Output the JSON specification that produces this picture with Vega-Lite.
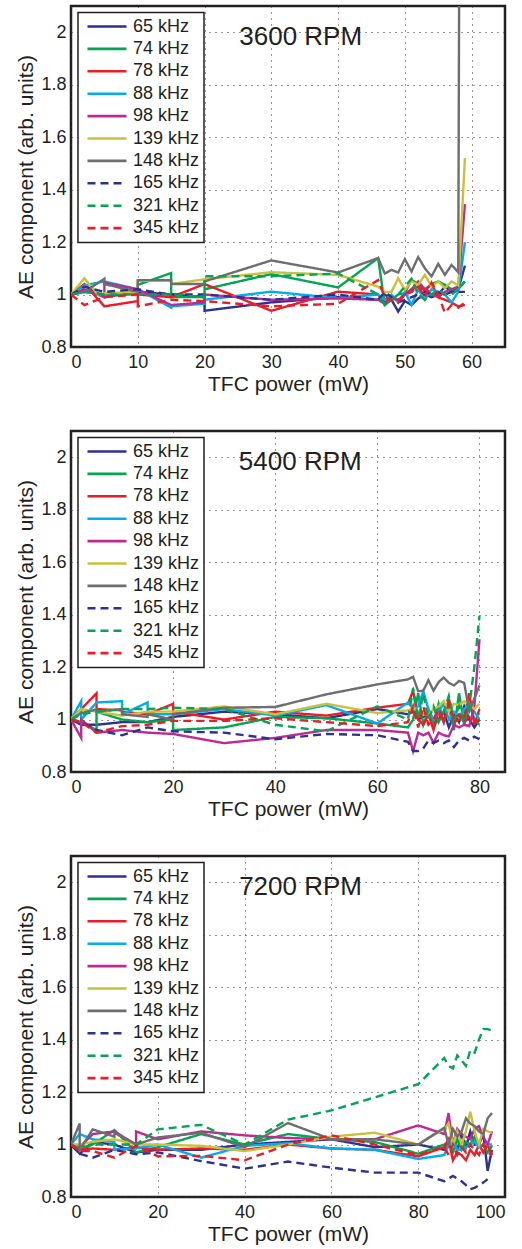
{
"$schema": "https://vega.github.io/schema/vega-lite/v6.json",
"background": "white",
"padding": {"left": 14, "top": 4, "right": 5, "bottom": 0},
"spacing": 33,
"config": {
  "font": "Liberation Sans",
  "view": {"stroke": "#231f20", "strokeWidth": 2.5},
  "axis": {"domain": false, "ticks": false, "grid": true, "gridDash": [1, 5], "gridColor": "#333333", "gridOpacity": 1, "gridWidth": 1,
    "labelFont": "Liberation Sans", "labelFontSize": 18, "labelColor": "#231f20", "labelPadding": 5,
    "titleFont": "Liberation Sans", "titleFontSize": 21, "titleFontWeight": "normal", "titleColor": "#231f20"},
  "axisX": {"labelPadding": 6, "titlePadding": 2},
  "axisY": {"titlePadding": 4},
  "legend": {"strokeColor": "#231f20", "strokeWidth": 1.5, "fillColor": "white", "padding": 4, "symbolOffset": 4,
    "symbolType": "stroke", "symbolSize": 1521, "symbolStrokeWidth": 2.6, "clipHeight": 20, "rowPadding": 2.4,
    "labelFont": "Liberation Sans", "labelFontSize": 18, "labelColor": "#231f20", "labelOffset": 5}
},
"datasets": {
"p1": [
 {"i":1,"x":0,"65 kHz":1,"74 kHz":1,"78 kHz":1,"88 kHz":1,"98 kHz":1,"139 kHz":1,"148 kHz":1,"165 kHz":1,"321 kHz":1,"345 kHz":1},
 {"i":2,"x":2,"65 kHz":1.035,"74 kHz":1.01,"78 kHz":1.04,"88 kHz":1.035,"98 kHz":1.02,"139 kHz":1.062,"148 kHz":1.01,"165 kHz":1.03,"321 kHz":1.01,"345 kHz":0.96},
 {"i":3,"x":4,"139 kHz":1.0},
 {"i":4,"x":5,"65 kHz":0.99,"74 kHz":1.0,"78 kHz":0.955,"88 kHz":1.05,"98 kHz":0.99,"139 kHz":1.005,"148 kHz":1.06,"165 kHz":1.01,"321 kHz":1.0,"345 kHz":0.99},
 {"i":5,"x":5,"98 kHz":1.045,"148 kHz":1.04},
 {"i":6,"x":10,"65 kHz":1.01,"74 kHz":1.005,"78 kHz":0.975,"88 kHz":1.02,"98 kHz":1.02,"139 kHz":1.01,"148 kHz":1.01,"165 kHz":1.02,"321 kHz":1.0,"345 kHz":1.0},
 {"i":7,"x":10,"74 kHz":1.037,"78 kHz":1.0,"139 kHz":1.052,"148 kHz":1.055,"345 kHz":0.955},
 {"i":8,"x":15,"65 kHz":1.0,"74 kHz":1.082,"78 kHz":0.99,"88 kHz":0.95,"98 kHz":0.96,"139 kHz":1.052,"148 kHz":1.055,"165 kHz":1.0,"321 kHz":1.0,"345 kHz":0.98},
 {"i":9,"x":15,"74 kHz":0.99,"88 kHz":0.955,"139 kHz":1.04,"148 kHz":1.04},
 {"i":10,"x":20,"65 kHz":0.99,"74 kHz":0.99,"78 kHz":1.04,"88 kHz":0.965,"98 kHz":0.97,"139 kHz":1.058,"148 kHz":1.04,"165 kHz":1.0,"321 kHz":0.99,"345 kHz":0.975},
 {"i":11,"x":20,"65 kHz":0.938,"74 kHz":1.02,"88 kHz":0.98,"98 kHz":1.0,"148 kHz":1.05,"321 kHz":1.07},
 {"i":12,"x":30,"65 kHz":0.97,"74 kHz":1.078,"78 kHz":0.938,"88 kHz":1.011,"98 kHz":0.98,"139 kHz":1.085,"148 kHz":1.13,"165 kHz":0.98,"321 kHz":1.07,"345 kHz":0.955},
 {"i":13,"x":40,"65 kHz":0.99,"74 kHz":1.027,"78 kHz":1.011,"88 kHz":0.986,"98 kHz":0.985,"139 kHz":1.075,"148 kHz":1.084,"165 kHz":1.0,"321 kHz":1.08,"345 kHz":0.965},
 {"i":14,"x":46,"65 kHz":0.98,"74 kHz":1.139,"78 kHz":1.0,"88 kHz":1.0,"98 kHz":0.98,"139 kHz":1.03,"148 kHz":1.139,"165 kHz":0.98,"321 kHz":1.0,"345 kHz":1.055},
 {"i":15,"x":47,"65 kHz":1.0,"74 kHz":0.96,"78 kHz":0.97,"88 kHz":0.98,"98 kHz":0.965,"139 kHz":1.01,"148 kHz":1.08,"165 kHz":1.01,"321 kHz":0.96,"345 kHz":0.99},
 {"i":16,"x":48,"65 kHz":0.98,"74 kHz":0.98,"78 kHz":0.99,"88 kHz":1.0,"98 kHz":0.99,"139 kHz":1.01,"148 kHz":1.094,"165 kHz":0.99,"321 kHz":0.98,"345 kHz":0.98},
 {"i":17,"x":49,"65 kHz":0.935,"74 kHz":1.0,"78 kHz":0.975,"88 kHz":0.97,"98 kHz":0.98,"139 kHz":1.062,"148 kHz":1.084,"165 kHz":0.97,"321 kHz":1.0,"345 kHz":0.97},
 {"i":18,"x":50,"65 kHz":0.975,"74 kHz":1.005,"78 kHz":1.0,"88 kHz":1.01,"98 kHz":1.0,"139 kHz":1.018,"148 kHz":1.135,"165 kHz":0.98,"321 kHz":1.03,"345 kHz":1.0},
 {"i":19,"x":51,"65 kHz":0.96,"74 kHz":1.056,"78 kHz":1.02,"88 kHz":0.96,"98 kHz":1.02,"139 kHz":1.05,"148 kHz":1.088,"165 kHz":0.99,"321 kHz":1.06,"345 kHz":1.01},
 {"i":20,"x":52,"65 kHz":0.985,"74 kHz":1.04,"78 kHz":1.03,"88 kHz":1.02,"98 kHz":1.05,"139 kHz":1.037,"148 kHz":1.143,"165 kHz":1.0,"321 kHz":1.0,"345 kHz":1.03},
 {"i":21,"x":53,"65 kHz":1.0,"74 kHz":1.02,"78 kHz":1.015,"88 kHz":0.98,"98 kHz":1.02,"139 kHz":1.075,"148 kHz":1.1,"165 kHz":1.01,"321 kHz":0.98,"345 kHz":0.99},
 {"i":22,"x":54,"65 kHz":0.99,"74 kHz":1.04,"78 kHz":1.04,"88 kHz":1.02,"98 kHz":1.0,"139 kHz":1.03,"148 kHz":1.069,"165 kHz":1.0,"321 kHz":1.0,"345 kHz":1.045},
 {"i":23,"x":55,"65 kHz":1.0,"74 kHz":1.05,"78 kHz":0.99,"88 kHz":1.01,"98 kHz":0.99,"139 kHz":1.05,"148 kHz":1.117,"165 kHz":1.01,"321 kHz":1.02,"345 kHz":1.0},
 {"i":24,"x":56,"65 kHz":1.03,"74 kHz":1.037,"78 kHz":0.98,"88 kHz":1.0,"98 kHz":1.01,"139 kHz":1.024,"148 kHz":1.075,"165 kHz":1.0,"321 kHz":1.0,"345 kHz":0.93},
 {"i":25,"x":57,"65 kHz":1.01,"74 kHz":1.02,"78 kHz":0.97,"88 kHz":0.97,"98 kHz":1.02,"139 kHz":1.05,"148 kHz":1.113,"165 kHz":1.01,"321 kHz":1.0,"345 kHz":0.96},
 {"i":26,"x":58,"65 kHz":1.02,"74 kHz":1.02,"78 kHz":0.955,"88 kHz":1.01,"98 kHz":1.03,"139 kHz":1.035,"148 kHz":1.085,"165 kHz":1.01,"321 kHz":1.02,"345 kHz":0.95},
 {"i":27,"x":58.3,"148 kHz":3.5},
 {"i":28,"x":59,"65 kHz":1.11,"74 kHz":1.05,"78 kHz":0.96,"88 kHz":1.2,"98 kHz":1.345,"139 kHz":1.52,"165 kHz":1.01,"321 kHz":1.05,"345 kHz":0.97}
],
"p2": [
 {"i":1,"x":0,"65 kHz":1,"74 kHz":1,"78 kHz":1,"88 kHz":1,"98 kHz":1,"139 kHz":1,"148 kHz":1,"165 kHz":1,"321 kHz":1,"345 kHz":1},
 {"i":2,"x":2,"65 kHz":0.98,"74 kHz":0.99,"78 kHz":1.04,"88 kHz":1.07,"98 kHz":0.93,"139 kHz":1.04,"148 kHz":1.025,"165 kHz":0.99,"321 kHz":1.02,"345 kHz":0.99},
 {"i":3,"x":2,"88 kHz":1.0,"98 kHz":1.0},
 {"i":4,"x":5,"65 kHz":0.98,"74 kHz":0.96,"78 kHz":1.1,"88 kHz":1.065,"98 kHz":0.95,"139 kHz":1.03,"148 kHz":1.038,"165 kHz":0.96,"321 kHz":1.03,"345 kHz":0.95},
 {"i":5,"x":5,"74 kHz":1.03,"78 kHz":1.04,"148 kHz":1.03},
 {"i":6,"x":10,"65 kHz":0.99,"74 kHz":1.0,"78 kHz":1.035,"88 kHz":1.07,"98 kHz":0.96,"139 kHz":1.015,"148 kHz":1.04,"165 kHz":0.94,"321 kHz":1.04,"345 kHz":0.975},
 {"i":7,"x":10,"78 kHz":1.03,"88 kHz":1.02,"148 kHz":1.02},
 {"i":8,"x":15,"65 kHz":0.99,"74 kHz":0.99,"78 kHz":1.02,"88 kHz":1.065,"98 kHz":0.95,"139 kHz":1.03,"148 kHz":1.01,"165 kHz":0.97,"321 kHz":1.04,"345 kHz":0.98},
 {"i":9,"x":15,"88 kHz":1.02,"148 kHz":1.02},
 {"i":10,"x":20,"65 kHz":1.01,"74 kHz":1.0,"78 kHz":1.06,"88 kHz":1.02,"98 kHz":0.945,"139 kHz":1.03,"148 kHz":1.0,"165 kHz":0.955,"321 kHz":1.045,"345 kHz":0.995},
 {"i":11,"x":20,"74 kHz":0.96,"78 kHz":1.03,"148 kHz":1.02},
 {"i":12,"x":30,"65 kHz":1.03,"74 kHz":0.97,"78 kHz":1.0,"88 kHz":1.04,"98 kHz":0.91,"139 kHz":1.05,"148 kHz":1.045,"165 kHz":0.95,"321 kHz":1.04,"345 kHz":0.995},
 {"i":13,"x":40,"65 kHz":1.02,"74 kHz":1.01,"78 kHz":1.03,"88 kHz":1.015,"98 kHz":0.93,"139 kHz":1.02,"148 kHz":1.048,"165 kHz":0.925,"321 kHz":0.98,"345 kHz":1.005},
 {"i":14,"x":50,"65 kHz":1.005,"74 kHz":1.005,"78 kHz":1.015,"88 kHz":1.055,"98 kHz":0.96,"139 kHz":1.06,"148 kHz":1.096,"165 kHz":0.945,"321 kHz":0.955,"345 kHz":0.99},
 {"i":15,"x":60,"65 kHz":1.04,"74 kHz":0.985,"78 kHz":1.045,"88 kHz":0.985,"98 kHz":0.96,"139 kHz":1.025,"148 kHz":1.134,"165 kHz":0.94,"321 kHz":1.05,"345 kHz":0.975},
 {"i":16,"x":66,"65 kHz":1.02,"74 kHz":0.97,"78 kHz":1.06,"88 kHz":1.065,"98 kHz":0.95,"139 kHz":1.035,"148 kHz":1.153,"165 kHz":0.915,"321 kHz":1.0,"345 kHz":0.99},
 {"i":17,"x":67,"65 kHz":1.03,"74 kHz":1.0,"78 kHz":1.11,"88 kHz":1.04,"98 kHz":0.879,"139 kHz":1.045,"148 kHz":1.163,"165 kHz":0.88,"321 kHz":1.12,"345 kHz":1.05},
 {"i":18,"x":68,"65 kHz":1.0,"74 kHz":1.1,"78 kHz":1.0,"88 kHz":1.05,"98 kHz":0.95,"139 kHz":1.03,"148 kHz":1.108,"165 kHz":0.88,"321 kHz":1.0,"345 kHz":0.97},
 {"i":19,"x":69,"65 kHz":1.01,"74 kHz":0.98,"78 kHz":0.98,"88 kHz":1.108,"98 kHz":0.94,"139 kHz":1.02,"148 kHz":1.11,"165 kHz":0.89,"321 kHz":1.1,"345 kHz":1.05},
 {"i":20,"x":70,"65 kHz":1.02,"74 kHz":1.03,"78 kHz":1.02,"88 kHz":1.04,"98 kHz":0.95,"139 kHz":1.02,"148 kHz":1.15,"165 kHz":0.92,"321 kHz":1.0,"345 kHz":0.98},
 {"i":21,"x":71,"65 kHz":0.98,"74 kHz":0.98,"78 kHz":0.96,"88 kHz":1.0,"98 kHz":0.911,"139 kHz":1.04,"148 kHz":1.11,"165 kHz":0.91,"321 kHz":1.05,"345 kHz":1.0},
 {"i":22,"x":72,"65 kHz":1.0,"74 kHz":1.06,"78 kHz":1.03,"88 kHz":1.03,"98 kHz":0.95,"139 kHz":1.05,"148 kHz":1.143,"165 kHz":0.92,"321 kHz":0.99,"345 kHz":1.04},
 {"i":23,"x":73,"65 kHz":1.03,"74 kHz":0.99,"78 kHz":0.99,"88 kHz":1.06,"98 kHz":0.94,"139 kHz":1.07,"148 kHz":1.16,"165 kHz":0.91,"321 kHz":1.03,"345 kHz":0.99},
 {"i":24,"x":74,"65 kHz":0.97,"74 kHz":1.05,"78 kHz":1.08,"88 kHz":1.0,"98 kHz":0.936,"139 kHz":1.03,"148 kHz":1.14,"165 kHz":0.92,"321 kHz":1.09,"345 kHz":1.06},
 {"i":25,"x":75,"65 kHz":1.02,"74 kHz":0.96,"78 kHz":0.99,"88 kHz":1.03,"98 kHz":0.98,"139 kHz":1.06,"148 kHz":1.13,"165 kHz":0.895,"321 kHz":1.0,"345 kHz":1.0},
 {"i":26,"x":76,"65 kHz":0.99,"74 kHz":1.1,"78 kHz":1.0,"88 kHz":1.01,"98 kHz":0.97,"139 kHz":1.055,"148 kHz":1.147,"165 kHz":0.92,"321 kHz":1.05,"345 kHz":1.02},
 {"i":27,"x":77,"65 kHz":1.05,"74 kHz":0.98,"78 kHz":1.01,"88 kHz":1.04,"98 kHz":0.98,"139 kHz":1.07,"148 kHz":1.14,"165 kHz":0.93,"321 kHz":0.98,"345 kHz":0.99},
 {"i":28,"x":78,"65 kHz":1.0,"74 kHz":1.06,"78 kHz":1.1,"88 kHz":1.06,"98 kHz":0.975,"139 kHz":1.06,"148 kHz":1.032,"165 kHz":0.92,"321 kHz":1.05,"345 kHz":1.01},
 {"i":29,"x":79,"65 kHz":0.97,"74 kHz":1.0,"78 kHz":0.98,"88 kHz":1.03,"98 kHz":1.05,"139 kHz":1.04,"148 kHz":1.08,"165 kHz":0.935,"321 kHz":1.2,"345 kHz":0.99},
 {"i":30,"x":80,"65 kHz":1.0,"74 kHz":0.98,"78 kHz":1.04,"88 kHz":1.0,"98 kHz":1.306,"139 kHz":1.06,"148 kHz":1.13,"165 kHz":0.925,"321 kHz":1.395,"345 kHz":1.0}
],
"p3": [
 {"i":1,"x":0,"65 kHz":1,"74 kHz":1,"78 kHz":1,"88 kHz":1,"98 kHz":1,"139 kHz":1,"148 kHz":1,"165 kHz":1,"321 kHz":1,"345 kHz":1},
 {"i":2,"x":2,"65 kHz":0.965,"74 kHz":0.98,"78 kHz":0.98,"88 kHz":1.04,"98 kHz":0.99,"139 kHz":1.0,"148 kHz":1.08,"165 kHz":0.965,"321 kHz":0.985,"345 kHz":0.975},
 {"i":3,"x":2,"148 kHz":0.98},
 {"i":4,"x":5,"65 kHz":1.01,"74 kHz":1.0,"78 kHz":0.985,"88 kHz":1.02,"98 kHz":1.04,"139 kHz":1.01,"148 kHz":1.058,"165 kHz":0.95,"321 kHz":1.0,"345 kHz":0.975},
 {"i":5,"x":10,"65 kHz":1.0,"74 kHz":1.055,"78 kHz":0.98,"88 kHz":1.01,"98 kHz":1.05,"139 kHz":1.02,"148 kHz":1.03,"165 kHz":0.98,"321 kHz":1.0,"345 kHz":0.95},
 {"i":6,"x":10,"88 kHz":0.98,"148 kHz":1.045},
 {"i":7,"x":15,"65 kHz":0.97,"74 kHz":0.97,"78 kHz":0.99,"88 kHz":0.985,"98 kHz":1.0,"139 kHz":1.0,"148 kHz":1.0,"165 kHz":0.963,"321 kHz":1.0,"345 kHz":0.995},
 {"i":8,"x":15,"98 kHz":1.05},
 {"i":9,"x":20,"65 kHz":0.98,"74 kHz":0.99,"78 kHz":0.98,"88 kHz":1.0,"98 kHz":1.02,"139 kHz":1.0,"148 kHz":1.027,"165 kHz":0.97,"321 kHz":1.058,"345 kHz":0.955},
 {"i":10,"x":30,"65 kHz":0.98,"74 kHz":1.04,"78 kHz":0.985,"88 kHz":0.95,"98 kHz":1.05,"139 kHz":0.995,"148 kHz":1.045,"165 kHz":0.937,"321 kHz":1.075,"345 kHz":0.957},
 {"i":11,"x":40,"65 kHz":1.0,"74 kHz":1.0,"78 kHz":0.98,"88 kHz":0.995,"98 kHz":1.035,"139 kHz":0.975,"148 kHz":0.99,"165 kHz":0.908,"321 kHz":1.0,"345 kHz":0.94},
 {"i":12,"x":50,"65 kHz":1.01,"74 kHz":1.04,"78 kHz":1.0,"88 kHz":1.005,"98 kHz":1.025,"139 kHz":1.0,"148 kHz":1.082,"165 kHz":0.935,"321 kHz":1.095,"345 kHz":1.0},
 {"i":13,"x":60,"65 kHz":1.02,"74 kHz":1.02,"78 kHz":0.985,"88 kHz":0.985,"98 kHz":1.02,"139 kHz":1.03,"148 kHz":1.02,"165 kHz":0.912,"321 kHz":1.13,"345 kHz":1.035},
 {"i":14,"x":70,"65 kHz":0.99,"74 kHz":1.01,"78 kHz":0.98,"88 kHz":0.98,"98 kHz":1.02,"139 kHz":1.045,"148 kHz":1.02,"165 kHz":0.893,"321 kHz":1.18,"345 kHz":1.0},
 {"i":15,"x":80,"65 kHz":1.0,"74 kHz":0.965,"78 kHz":0.955,"88 kHz":0.945,"98 kHz":1.073,"139 kHz":1.0,"148 kHz":1.0,"165 kHz":0.893,"321 kHz":1.23,"345 kHz":0.96},
 {"i":16,"x":86,"65 kHz":0.98,"74 kHz":1.0,"78 kHz":0.99,"88 kHz":0.96,"98 kHz":1.04,"139 kHz":1.06,"148 kHz":1.064,"165 kHz":0.86,"321 kHz":1.33,"345 kHz":0.99},
 {"i":17,"x":87,"65 kHz":1.0,"74 kHz":1.01,"78 kHz":1.02,"88 kHz":1.0,"98 kHz":1.12,"139 kHz":1.08,"148 kHz":1.0,"165 kHz":0.87,"321 kHz":1.3,"345 kHz":0.96},
 {"i":18,"x":88,"65 kHz":1.01,"74 kHz":0.97,"78 kHz":0.94,"88 kHz":1.01,"98 kHz":1.0,"139 kHz":1.0,"148 kHz":1.06,"165 kHz":0.88,"321 kHz":1.29,"345 kHz":1.0},
 {"i":19,"x":89,"65 kHz":0.98,"74 kHz":1.02,"78 kHz":0.97,"88 kHz":0.98,"98 kHz":1.06,"139 kHz":1.05,"148 kHz":1.03,"165 kHz":0.87,"321 kHz":1.34,"345 kHz":0.96},
 {"i":20,"x":90,"65 kHz":1.04,"74 kHz":0.98,"78 kHz":0.96,"88 kHz":0.98,"98 kHz":1.04,"139 kHz":1.0,"148 kHz":1.05,"165 kHz":0.86,"321 kHz":1.32,"345 kHz":0.99},
 {"i":21,"x":91,"65 kHz":0.99,"74 kHz":1.01,"78 kHz":0.94,"88 kHz":0.99,"98 kHz":1.03,"139 kHz":1.05,"148 kHz":1.1,"165 kHz":0.845,"321 kHz":1.3,"345 kHz":0.97},
 {"i":22,"x":92,"65 kHz":1.05,"74 kHz":1.0,"78 kHz":0.98,"88 kHz":1.0,"98 kHz":1.02,"139 kHz":1.125,"148 kHz":1.08,"165 kHz":0.83,"321 kHz":1.36,"345 kHz":1.0},
 {"i":23,"x":93,"65 kHz":1.0,"74 kHz":1.03,"78 kHz":0.96,"88 kHz":1.01,"98 kHz":1.06,"139 kHz":1.05,"148 kHz":1.07,"165 kHz":0.835,"321 kHz":1.35,"345 kHz":0.98},
 {"i":24,"x":94,"65 kHz":1.0,"74 kHz":0.99,"78 kHz":1.0,"88 kHz":0.99,"98 kHz":1.07,"139 kHz":1.0,"148 kHz":1.05,"165 kHz":0.845,"321 kHz":1.4,"345 kHz":0.96},
 {"i":25,"x":95,"65 kHz":1.04,"74 kHz":1.0,"78 kHz":0.97,"88 kHz":1.0,"98 kHz":1.03,"139 kHz":1.06,"148 kHz":1.04,"165 kHz":0.855,"321 kHz":1.44,"345 kHz":1.0},
 {"i":26,"x":96,"65 kHz":0.9,"74 kHz":0.97,"78 kHz":1.0,"88 kHz":1.0,"98 kHz":1.0,"139 kHz":1.05,"148 kHz":1.1,"165 kHz":0.868,"321 kHz":1.44,"345 kHz":0.97},
 {"i":27,"x":97,"65 kHz":0.98,"74 kHz":0.995,"78 kHz":0.96,"88 kHz":1.0,"98 kHz":1.05,"139 kHz":1.045,"148 kHz":1.12,"321 kHz":1.435,"345 kHz":0.96}
]
},
"vconcat": [
 {"width": 434, "height": 341,
  "layer": [
   {"data": {"name": "p1"},
    "transform": [{"fold": ["65 kHz","74 kHz","78 kHz","88 kHz","98 kHz","139 kHz","148 kHz","165 kHz","321 kHz","345 kHz"], "as": ["s","v"]}, {"filter": "isValid(datum.v)"}],
    "mark": {"type": "line", "clip": true, "strokeWidth": 2.4},
    "encoding": {
     "x": {"field": "x", "type": "quantitative", "scale": {"domain": [0, 65], "nice": false}, "axis": {"values": [0,10,20,30,40,50,60], "title": "TFC power (mW)"}},
     "y": {"field": "v", "type": "quantitative", "scale": {"domain": [0.8, 2.1], "nice": false, "zero": false}, "axis": {"values": [0.8,1,1.2,1.4,1.6,1.8,2], "format": "~g", "title": "AE component (arb. units)"}},
     "color": {"field": "s", "type": "nominal", "scale": {"domain": ["65 kHz","74 kHz","78 kHz","88 kHz","98 kHz","139 kHz","148 kHz","165 kHz","321 kHz","345 kHz"], "range": ["#2e3192","#00a651","#ed1c24","#00aeef","#bd2a91","#c9c13a","#6d6e70","#2e3192","#00a651","#ed1c24"]}, "legend": {"title": null, "orient": "none", "legendX": 7, "legendY": 6.5}},
     "strokeDash": {"field": "s", "type": "nominal", "scale": {"domain": ["65 kHz","74 kHz","78 kHz","88 kHz","98 kHz","139 kHz","148 kHz","165 kHz","321 kHz","345 kHz"], "range": [[1,0],[1,0],[1,0],[1,0],[1,0],[1,0],[1,0],[8,5],[8,5],[8,5]]}, "legend": {"title": null, "orient": "none", "legendX": 7, "legendY": 6.5}},
     "order": {"field": "i", "type": "quantitative"}
    }},
   {"data": {"values": [{}]},
    "mark": {"type": "text", "fontSize": 26, "color": "#231f20", "align": "center", "baseline": "middle"},
    "encoding": {"x": {"datum": 34.4, "type": "quantitative"}, "y": {"datum": 1.98, "type": "quantitative"}, "text": {"value": "3600 RPM"}}}
  ]},
 {"width": 434, "height": 341,
  "layer": [
   {"data": {"name": "p2"},
    "transform": [{"fold": ["65 kHz","74 kHz","78 kHz","88 kHz","98 kHz","139 kHz","148 kHz","165 kHz","321 kHz","345 kHz"], "as": ["s","v"]}, {"filter": "isValid(datum.v)"}],
    "mark": {"type": "line", "clip": true, "strokeWidth": 2.4},
    "encoding": {
     "x": {"field": "x", "type": "quantitative", "scale": {"domain": [0, 85], "nice": false}, "axis": {"values": [0,20,40,60,80], "title": "TFC power (mW)"}},
     "y": {"field": "v", "type": "quantitative", "scale": {"domain": [0.8, 2.1], "nice": false, "zero": false}, "axis": {"values": [0.8,1,1.2,1.4,1.6,1.8,2], "format": "~g", "title": "AE component (arb. units)"}},
     "color": {"field": "s", "type": "nominal", "scale": {"domain": ["65 kHz","74 kHz","78 kHz","88 kHz","98 kHz","139 kHz","148 kHz","165 kHz","321 kHz","345 kHz"], "range": ["#2e3192","#00a651","#ed1c24","#00aeef","#bd2a91","#c9c13a","#6d6e70","#2e3192","#00a651","#ed1c24"]}, "legend": {"title": null, "orient": "none", "legendX": 7, "legendY": 6.5}},
     "strokeDash": {"field": "s", "type": "nominal", "scale": {"domain": ["65 kHz","74 kHz","78 kHz","88 kHz","98 kHz","139 kHz","148 kHz","165 kHz","321 kHz","345 kHz"], "range": [[1,0],[1,0],[1,0],[1,0],[1,0],[1,0],[1,0],[8,5],[8,5],[8,5]]}, "legend": {"title": null, "orient": "none", "legendX": 7, "legendY": 6.5}},
     "order": {"field": "i", "type": "quantitative"}
    }},
   {"data": {"values": [{}]},
    "mark": {"type": "text", "fontSize": 26, "color": "#231f20", "align": "center", "baseline": "middle"},
    "encoding": {"x": {"datum": 44.9, "type": "quantitative"}, "y": {"datum": 1.98, "type": "quantitative"}, "text": {"value": "5400 RPM"}}}
  ]},
 {"width": 434, "height": 341,
  "layer": [
   {"data": {"name": "p3"},
    "transform": [{"fold": ["65 kHz","74 kHz","78 kHz","88 kHz","98 kHz","139 kHz","148 kHz","165 kHz","321 kHz","345 kHz"], "as": ["s","v"]}, {"filter": "isValid(datum.v)"}],
    "mark": {"type": "line", "clip": true, "strokeWidth": 2.4},
    "encoding": {
     "x": {"field": "x", "type": "quantitative", "scale": {"domain": [0, 100], "nice": false}, "axis": {"values": [0,20,40,60,80,100], "title": "TFC power (mW)"}},
     "y": {"field": "v", "type": "quantitative", "scale": {"domain": [0.8, 2.1], "nice": false, "zero": false}, "axis": {"values": [0.8,1,1.2,1.4,1.6,1.8,2], "format": "~g", "title": "AE component (arb. units)"}},
     "color": {"field": "s", "type": "nominal", "scale": {"domain": ["65 kHz","74 kHz","78 kHz","88 kHz","98 kHz","139 kHz","148 kHz","165 kHz","321 kHz","345 kHz"], "range": ["#2e3192","#00a651","#ed1c24","#00aeef","#bd2a91","#c9c13a","#6d6e70","#2e3192","#00a651","#ed1c24"]}, "legend": {"title": null, "orient": "none", "legendX": 7, "legendY": 6.5}},
     "strokeDash": {"field": "s", "type": "nominal", "scale": {"domain": ["65 kHz","74 kHz","78 kHz","88 kHz","98 kHz","139 kHz","148 kHz","165 kHz","321 kHz","345 kHz"], "range": [[1,0],[1,0],[1,0],[1,0],[1,0],[1,0],[1,0],[8,5],[8,5],[8,5]]}, "legend": {"title": null, "orient": "none", "legendX": 7, "legendY": 6.5}},
     "order": {"field": "i", "type": "quantitative"}
    }},
   {"data": {"values": [{}]},
    "mark": {"type": "text", "fontSize": 26, "color": "#231f20", "align": "center", "baseline": "middle"},
    "encoding": {"x": {"datum": 52.9, "type": "quantitative"}, "y": {"datum": 1.98, "type": "quantitative"}, "text": {"value": "7200 RPM"}}}
  ]}
],
"resolve": {"scale": {"x": "independent", "y": "independent", "color": "independent", "strokeDash": "independent"}, "legend": {"color": "independent", "strokeDash": "independent"}}
}
